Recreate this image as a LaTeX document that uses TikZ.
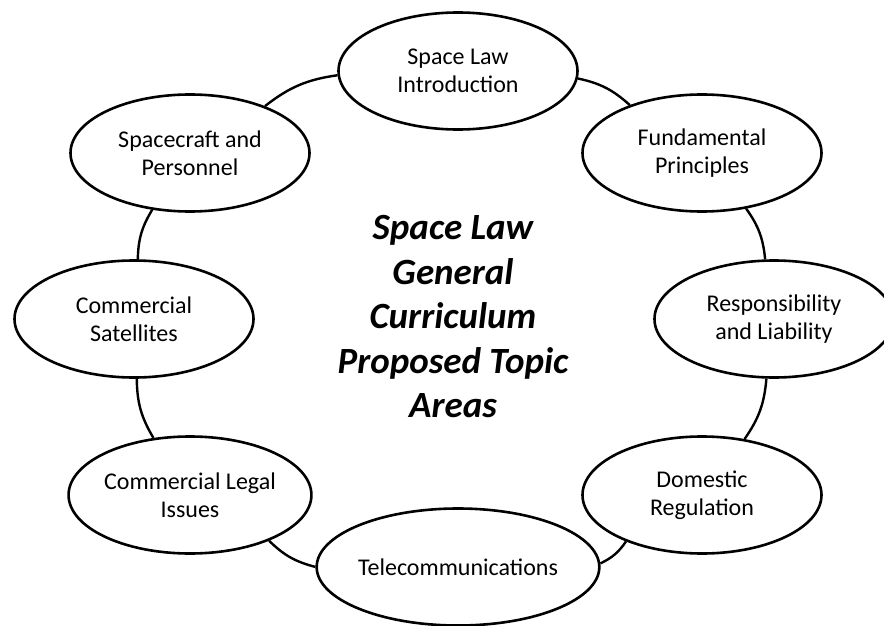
\documentclass[tikz,border=0pt]{standalone}
\usepackage{fontspec}
\setmainfont{Carlito}
\usetikzlibrary{shapes.geometric}

\begin{document}
\begin{tikzpicture}[x=1pt, y=-1pt,
  topic/.style={ellipse, draw, line width=2.6pt, fill=white, minimum width=239pt, minimum height=117pt, inner sep=0pt, align=center, font=\fontsize{24}{28}\selectfont},
  headline/.style={align=center, font=\fontsize{37}{44.5}\selectfont\bfseries\itshape},
  link/.style={line width=2.4pt, bend left=15}]

  \useasboundingbox (0,0) rectangle (884,626);

  \node [topic] (intro) at (458,71) {Space Law\\ Introduction};
  \node [topic] (fund) at (702,153) {Fundamental\\ Principles};
  \node [topic] (resp) at (774,319) {Responsibility\\ and Liability};
  \node [topic] (domestic) at (702,495) {Domestic\\ Regulation};
  \node [topic] (telecom) at (458,567) {Telecommunications};
  \node [topic] (legal) at (190,495) {Commercial Legal\\ Issues};
  \node [topic] (satellites) at (134,319) {Commercial\\ Satellites};
  \node [topic] (spacecraft) at (190,153) {Spacecraft and\\ Personnel};
  \node [headline] (title) at (453,317) {Space Law\\ General\\ Curriculum\\ Proposed Topic\\ Areas};

  \draw [link] (intro) to (fund);
  \draw [link] (fund) to (resp);
  \draw [link] (resp) to (domestic);
  \draw [link] (domestic) to (telecom);
  \draw [link] (telecom) to (legal);
  \draw [link] (legal) to (satellites);
  \draw [link] (satellites) to (spacecraft);
  \draw [link] (spacecraft) to (intro);
\end{tikzpicture}
\end{document}
